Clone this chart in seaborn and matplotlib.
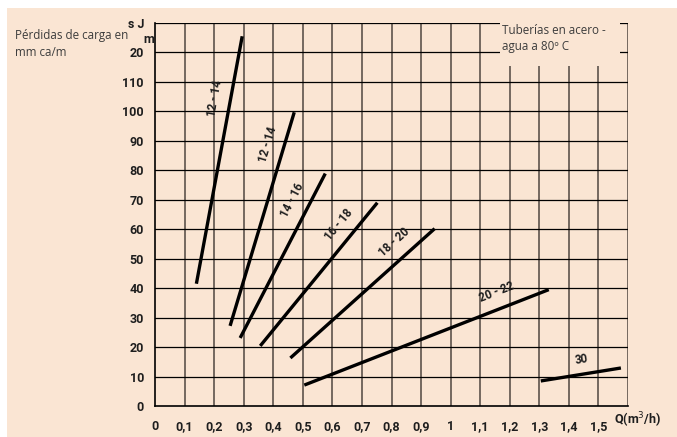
"""
Pérdidas de carga - tuberías en acero, agua a 80 C
"""

import matplotlib
matplotlib.use('Agg')
import matplotlib.pyplot as plt
from matplotlib.patches import Rectangle
import matplotlib.transforms as mtransforms
import seaborn as sns
import pandas as pd
import numpy as np

# ================================= #
# DATA
# ================================= #
series_labels = ['12 - 14', '12 - 14', '14 - 16', '16 - 18', '18 - 20', '20 - 22', '30']
x_start = [0.14, 0.254, 0.288, 0.356, 0.458, 0.505, 1.305]
x_end = [0.295, 0.471, 0.576, 0.752, 0.946, 1.332, 1.576]
y_start = [41.5, 27.2, 23.1, 20.4, 16.3, 7.1, 8.5]
y_end = [125.5, 99.7, 78.9, 69.0, 60.2, 39.5, 12.9]
label_x = [0.215, 0.394, 0.476, 0.631, 0.818, 1.161, 1.446]
label_y = [104.1, 88.4, 69.2, 60.7, 54.6, 37.4, 14.7]

x_ticks = [0, 0.1, 0.2, 0.3, 0.4, 0.5, 0.6, 0.7, 0.8, 0.9, 1, 1.1, 1.2, 1.3, 1.4, 1.5]
x_tick_labels = ['0', '0,1', '0,2', '0,3', '0,4', '0,5', '0,6', '0,7', '0,8', '0,9',
                 '1', '1,1', '1,2', '1,3', '1,4', '1,5']
y_ticks = [0, 10, 20, 30, 40, 50, 60, 70, 80, 90, 100, 110, 120, 130]
y_tick_labels = ['0', '10', '20', '30', '40', '50', '60', '70', '80', '90',
                 '100', '110', '20', 's J']

# long format for seaborn
df = pd.DataFrame({'id': np.repeat(np.arange(len(series_labels)), 2),
                   'q': np.ravel(np.column_stack([x_start, x_end])),
                   'loss': np.ravel(np.column_stack([y_start, y_end]))})

# ================================= #
# STYLE
# ================================= #
peach = '#fae5d3'
gridgrey = '#74685f'
sns.set_style('white')
plt.rcParams['font.family'] = ['Roboto', 'DejaVu Sans']
tickfont = dict(family=['Roboto', 'DejaVu Sans'], weight='bold',
                size=9, color='#1e1e1e')
linefont = dict(family=['Roboto', 'DejaVu Sans'], weight='bold',
                size=8.3, color='#1e1e1e')
textfont = dict(family=['Open Sans', 'DejaVu Sans'], size=8.4, color='#3c3c3c')

fig = plt.figure(figsize=(6.77, 4.37), dpi=100, facecolor='white')
fig.patches.append(Rectangle((7 / 677, 0), 1, (437 - 8) / 437, transform=fig.transFigure,
                             facecolor=peach, edgecolor='none', zorder=-10))
ax = fig.add_axes([155 / 677, 31 / 437, 473 / 677, 383 / 437])
ax.set_zorder(5)
ax.set_facecolor(peach)

# grid: vertical grey, horizontal black
for xv in np.arange(0.1, 1.65, 0.1):
    ax.axvline(xv, color=gridgrey, lw=1.4, zorder=1)
for yv in y_ticks[1:]:
    ax.axhline(yv, color='black', lw=0.9, zorder=1)

sns.lineplot(data=df, x='q', y='loss', units='id', estimator=None, color='black',
             lw=2.4, solid_capstyle='butt', legend=False, ax=ax, zorder=3)

ax.set_xlim(0, 1.6)
ax.set_ylim(0, 130)
ax.set_xticks(x_ticks)
ax.set_xticklabels(x_tick_labels, **tickfont)
ax.set_yticks(y_ticks)
ax.set_yticklabels(y_tick_labels, **tickfont)
ax.tick_params(axis='x', length=7, width=1.4, color=gridgrey, pad=3)
ax.tick_params(axis='y', length=7, width=1.0, color='black', pad=1)
ax.set_xlabel('')
ax.set_ylabel('')
for side in ['top', 'right']:
    ax.spines[side].set_visible(False)
ax.spines['left'].set_color('black')
ax.spines['left'].set_linewidth(1.2)
ax.spines['bottom'].set_color('black')
ax.spines['bottom'].set_linewidth(1.2)

# diameter labels, rotated along each line and nudged off it
fig.canvas.draw()
for i, lab in enumerate(series_labels):
    p0 = ax.transData.transform((x_start[i], y_start[i]))
    p1 = ax.transData.transform((x_end[i], y_end[i]))
    ang = np.degrees(np.arctan2(p1[1] - p0[1], p1[0] - p0[0]))
    nudge = 2.5 / 72  # inches
    off = mtransforms.ScaledTranslation(-np.sin(np.radians(ang)) * nudge,
                                        np.cos(np.radians(ang)) * nudge,
                                        fig.dpi_scale_trans)
    ax.text(label_x[i], label_y[i], lab, rotation=ang, rotation_mode='anchor',
            ha='center', va='center', zorder=4, transform=ax.transData + off,
            **linefont)

# box behind the note (hides grid in the corner)
ax.add_patch(Rectangle((1.168, 115.5), 0.405, 17, facecolor=peach, edgecolor='none',
                       zorder=2.6, clip_on=False))
ax.text(1.175, 129.5, 'Tuberías en acero -\nagua a 80º C', ha='left', va='top',
        linespacing=1.3, zorder=3, **textfont)

ax.text(1.634, -4.8, 'Q(m$^3$/h)', ha='center', va='center', **tickfont)
ax.text(-0.022, 124.5, 'm', ha='center', va='center', **tickfont)
fig.text(15 / 677, 1 - 29 / 437, 'Pérdidas de carga en\nmm ca/m', ha='left', va='top',
         linespacing=1.35, **textfont)

fig.savefig('out.png', dpi=100, facecolor=fig.get_facecolor())
